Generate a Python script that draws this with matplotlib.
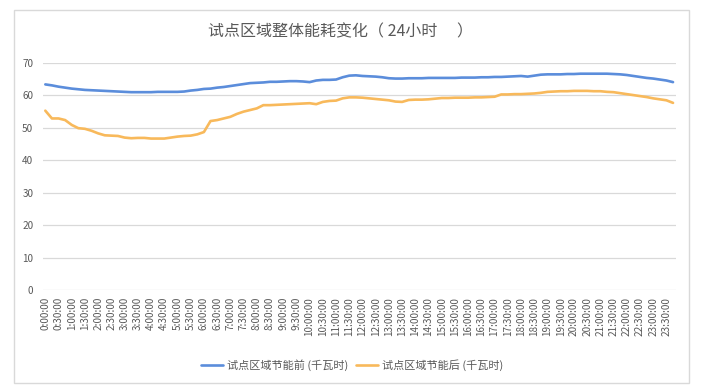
import matplotlib
matplotlib.use("Agg")
import matplotlib.pyplot as plt
from matplotlib.patches import Rectangle

plt.rcParams['font.family'] = ['Noto Sans CJK SC', 'DejaVu Sans']

title = "试点区域整体能耗变化（ 24小时　 ）"
series_names = ["试点区域节能前 (千瓦时)", "试点区域节能后 (千瓦时)"]

# 15-minute readings, 0:00 .. 23:45
before = [63.4, 63.1, 62.7, 62.4, 62.1, 61.9, 61.7, 61.6, 61.5, 61.4, 61.3, 61.2,
          61.1, 61.0, 61.0, 61.0, 61.0, 61.1, 61.1, 61.1, 61.1, 61.2, 61.5, 61.7,
          62.0, 62.1, 62.4, 62.6, 62.9, 63.2, 63.5, 63.8, 63.9, 64.0, 64.2, 64.2,
          64.3, 64.4, 64.4, 64.3, 64.1, 64.6, 64.8, 64.8, 64.9, 65.6, 66.1, 66.2,
          66.0, 65.9, 65.8, 65.6, 65.3, 65.2, 65.2, 65.3, 65.3, 65.3, 65.4, 65.4,
          65.4, 65.4, 65.4, 65.5, 65.5, 65.5, 65.6, 65.6, 65.7, 65.7, 65.8, 65.9,
          66.0, 65.8, 66.1, 66.4, 66.5, 66.5, 66.5, 66.6, 66.6, 66.7, 66.7, 66.7,
          66.7, 66.7, 66.6, 66.5, 66.3, 66.0, 65.7, 65.4, 65.2, 64.9, 64.6, 64.1]

after = [55.3, 52.9, 52.9, 52.4, 50.9, 49.9, 49.7, 49.1, 48.3, 47.7, 47.6, 47.5,
         47.0, 46.8, 46.9, 46.9, 46.7, 46.7, 46.7, 47.0, 47.3, 47.5, 47.6, 48.0,
         48.7, 52.1, 52.4, 52.9, 53.4, 54.3, 55.0, 55.5, 56.0, 57.0, 57.0, 57.1,
         57.2, 57.3, 57.4, 57.5, 57.6, 57.3, 58.0, 58.3, 58.4, 59.1, 59.4, 59.4,
         59.3, 59.1, 58.9, 58.7, 58.5, 58.1, 58.0, 58.6, 58.7, 58.7, 58.8, 59.0,
         59.2, 59.2, 59.3, 59.3, 59.3, 59.4, 59.4, 59.5, 59.6, 60.3, 60.3, 60.4,
         60.4, 60.5, 60.6, 60.8, 61.1, 61.2, 61.3, 61.3, 61.4, 61.4, 61.4, 61.3,
         61.3, 61.1, 61.0, 60.7, 60.4, 60.1, 59.8, 59.5, 59.1, 58.8, 58.5, 57.7]

tick_labels = ["0:00:00", "0:30:00", "1:00:00", "1:30:00", "2:00:00", "2:30:00",
               "3:00:00", "3:30:00", "4:00:00", "4:30:00", "5:00:00", "5:30:00",
               "6:00:00", "6:30:00", "7:00:00", "7:30:00", "8:00:00", "8:30:00",
               "9:00:00", "9:30:00", "10:00:00", "10:30:00", "11:00:00", "11:30:00",
               "12:00:00", "12:30:00", "13:00:00", "13:30:00", "14:00:00", "14:30:00",
               "15:00:00", "15:30:00", "16:00:00", "16:30:00", "17:00:00", "17:30:00",
               "18:00:00", "18:30:00", "19:00:00", "19:30:00", "20:00:00", "20:30:00",
               "21:00:00", "21:30:00", "22:00:00", "22:30:00", "23:00:00", "23:30:00"]
y_ticks = [0, 10, 20, 30, 40, 50, 60, 70]

W, H = 702, 392
fig = plt.figure(figsize=(W / 100, H / 100), dpi=100)
fig.patch.set_facecolor("white")

# outer chart frame
fig.patches.append(Rectangle((14 / W, (H - 383) / H), 675 / W, 373 / H,
                             transform=fig.transFigure, fill=False,
                             edgecolor="#d9d9d9", linewidth=1.0))

ax = fig.add_axes([43 / W, (H - 290) / H, (676 - 43) / W, (290 - 63) / H])
x = list(range(len(before)))
ax.plot(x, before, color="#5B8DDB", linewidth=1.9, label=series_names[0],
        solid_capstyle="round", solid_joinstyle="round")
ax.plot(x, after, color="#F8B95B", linewidth=1.9, label=series_names[1],
        solid_capstyle="round", solid_joinstyle="round")

ax.set_xlim(-0.35, 95.45)
ax.set_ylim(0, 70)
ax.set_yticks(y_ticks)
ax.set_xticks(list(range(0, len(before), 2)))
ax.set_xticklabels(tick_labels, rotation=90, fontsize=7.2, color="#595959")
ax.tick_params(axis="y", labelsize=7.2, labelcolor="#595959", length=0, pad=7)
ax.tick_params(axis="x", length=0, pad=5)
ax.grid(axis="y", color="#d9d9d9", linewidth=0.9)
ax.set_axisbelow(True)
for s in ax.spines.values():
    s.set_visible(False)

fig.text(341 / W, 1 - 32 / H, title, ha="center", va="center", fontsize=11.5,
         color="#595959")

leg = fig.legend(loc="center", bbox_to_anchor=(352 / W, 1 - 365 / H), ncol=2,
                 frameon=False, fontsize=8, handlelength=2.0, handletextpad=0.35,
                 columnspacing=0.7)
for t in leg.get_texts():
    t.set_color("#595959")

fig.savefig("out.png", dpi=100, facecolor="white")
